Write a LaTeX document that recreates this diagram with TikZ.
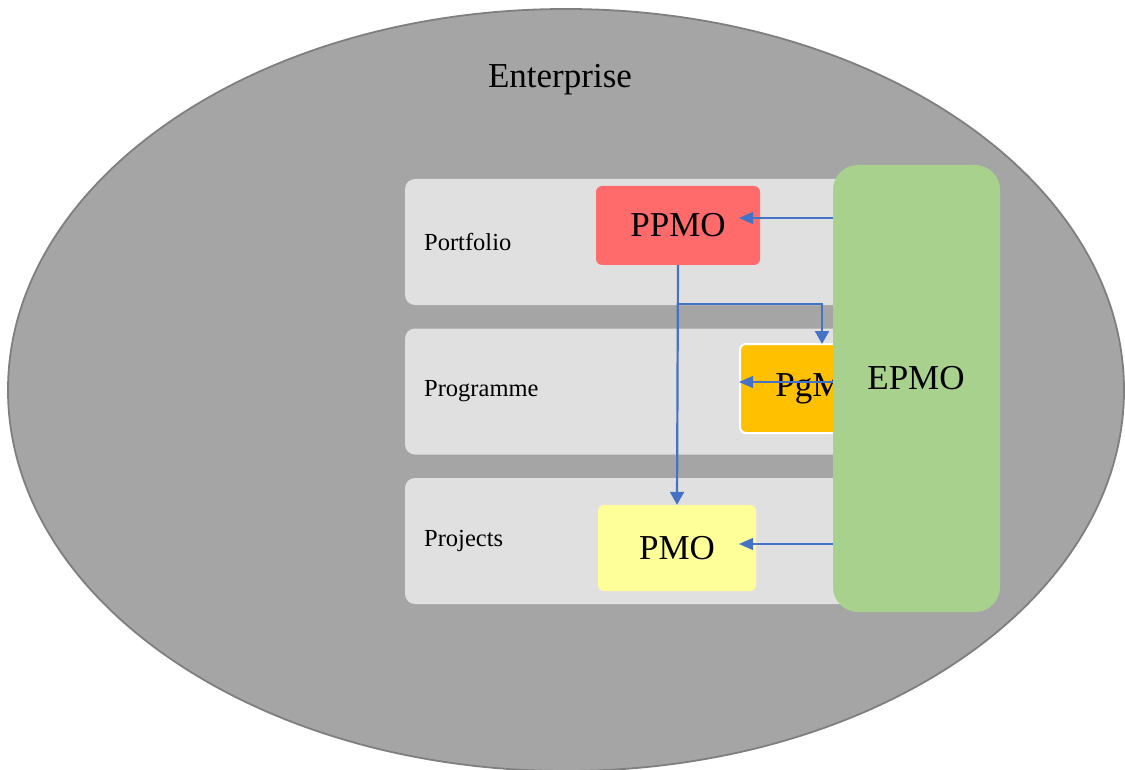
\documentclass[tikz,border=0pt]{standalone}
\usepackage{fontspec}
\setmainfont{Liberation Serif}
\usetikzlibrary{arrows.meta,shapes.geometric}
\definecolor{entfill}{HTML}{A5A5A5}
\definecolor{entdraw}{HTML}{7F7F7F}
\definecolor{bandfill}{HTML}{E0E0E0}
\definecolor{ppmofill}{HTML}{FF6B6B}
\definecolor{pgmfill}{HTML}{FFC000}
\definecolor{pmofill}{HTML}{FFFF99}
\definecolor{epmofill}{HTML}{A9D18E}
\definecolor{arrowblue}{HTML}{4472C4}
\tikzset{
  band/.style={fill=bandfill, draw=none, rounded corners=10pt, minimum width=525pt, minimum height=126pt, inner sep=0pt},
  lbl/.style={anchor=west, font=\fontsize{24.5}{28}\selectfont, inner sep=0pt},
  office/.style={rounded corners=6pt, inner sep=0pt, font=\fontsize{35}{40}\selectfont},
  thinarrow/.style={draw=arrowblue, line width=1.1pt, -{Triangle[length=14pt,width=12pt]}},
  thickarrow/.style={draw=arrowblue, line width=2.2pt, -{Triangle[length=13pt,width=14pt]}},
}
\begin{document}
\begin{tikzpicture}[x=1pt,y=-1pt]
\useasboundingbox (0,0) rectangle (1125,770);
\node[ellipse, fill=entfill, draw=entdraw, line width=1.8pt, minimum width=1116pt, minimum height=762pt, inner sep=0pt] (ent) at (566,390) {};
\node[font=\fontsize{35}{40}\selectfont] (entlbl) at (560,80) {Enterprise};

\node[band] (b1) at (667.5,242) {};
\node[band] (b2) at (667.5,391.5) {};
\node[band] (b3) at (667.5,541) {};

\node[lbl] (l1) at (424,242) {Portfolio};
\node[lbl] (l2) at (424,391) {Programme};
\node[lbl] (l3) at (424,541) {Projects};

\node[office, fill=ppmofill, minimum width=164pt, minimum height=79pt] (ppmo) at (678,225.5) {PPMO};
\node[office, fill=pgmfill, draw=white, line width=2pt, minimum width=164pt, minimum height=89pt] (pgm) at (822,388.5) {PgMO};
\node[office, fill=pmofill, minimum width=158pt, minimum height=86pt] (pmo) at (677,548) {PMO};

\coordinate (t1) at (739,218);
\coordinate (s1) at (840,218);
\coordinate (t2) at (739,382);
\coordinate (s2) at (840,382);
\coordinate (t3) at (739,544);
\coordinate (s3) at (840,544);
\coordinate (br) at (678,304);
\coordinate (pgmtop) at (822,344);

\draw[thinarrow] (s1) -- (t1);
\draw[thinarrow] (s2) -- (t2);
\draw[thinarrow] (s3) -- (t3);

\draw[thickarrow] (ppmo.south) -- (pmo.north);
\draw[thickarrow] (br) -| (pgmtop);

\node[fill=epmofill, rounded corners=25pt, minimum width=167pt, minimum height=447pt, inner sep=0pt] (epmo) at (916.5,388.5) {};
\node[font=\fontsize{35}{40}\selectfont] (epmolbl) at (916,378) {EPMO};
\end{tikzpicture}
\end{document}
